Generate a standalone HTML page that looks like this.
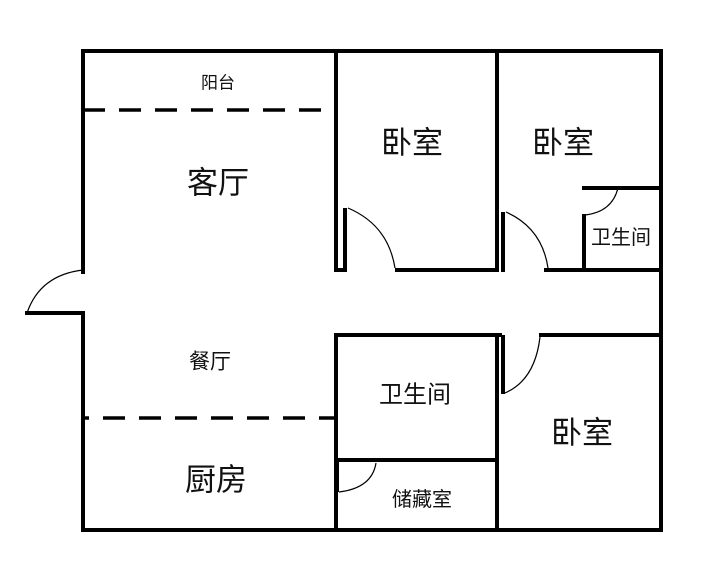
<!DOCTYPE html>
<html><head><meta charset="utf-8"><style>
html,body{margin:0;padding:0;background:#fff;width:711px;height:587px;overflow:hidden}
text{font-family:"Liberation Sans","Noto Sans CJK SC",sans-serif;fill:#111;text-anchor:middle;dominant-baseline:central}
</style></head><body>
<svg width="711" height="587" viewBox="0 0 711 587" xmlns="http://www.w3.org/2000/svg">
<g stroke="#000" stroke-width="4" fill="none" stroke-linecap="square">
<!-- outer -->
<line x1="83" y1="51" x2="661" y2="51"/>
<line x1="83" y1="51" x2="83" y2="272"/>
<line x1="83" y1="313" x2="83" y2="530"/>
<line x1="83" y1="530" x2="661" y2="530"/>
<line x1="661" y1="51" x2="661" y2="530"/>
<!-- bedroom 1 -->
<line x1="336" y1="51" x2="336" y2="270"/>
<line x1="345" y1="210" x2="345" y2="270"/>
<line x1="336" y1="270" x2="345" y2="270"/>
<line x1="397" y1="270" x2="497" y2="270"/>
<!-- bedroom 2 -->
<line x1="497" y1="51" x2="497" y2="270"/>
<line x1="503" y1="214" x2="503" y2="270"/>
<line x1="546" y1="270" x2="661" y2="270"/>
<!-- small bath -->
<line x1="584" y1="188" x2="661" y2="188"/>
<line x1="584" y1="216" x2="584" y2="270"/>
<!-- lower block -->
<line x1="336" y1="335" x2="500" y2="335"/>
<line x1="336" y1="335" x2="336" y2="530"/>
<line x1="497" y1="335" x2="497" y2="530"/>
<line x1="503" y1="337" x2="503" y2="392"/>
<line x1="336" y1="460" x2="497" y2="460"/>
<line x1="541" y1="335" x2="661" y2="335"/>
<!-- entry door sill -->
<line x1="27" y1="313" x2="83" y2="313"/>
</g>
<g stroke="#000" stroke-width="3.5" fill="none">
<line x1="83" y1="110" x2="336" y2="110" stroke-dasharray="22,14"/>
<line x1="83" y1="418" x2="336" y2="418" stroke-dasharray="22,14" stroke-dashoffset="-20"/>
<line x1="338" y1="462" x2="338" y2="492" stroke-width="2"/>
</g>
<g stroke="#000" stroke-width="1.2" fill="none">
<path d="M27 313 Q40 275 83 270"/>
<path d="M348 208 Q388 225 395 268"/>
<path d="M506 212 Q542 228 548 268"/>
<path d="M618 188 Q612 212 585 215"/>
<path d="M540 337 Q535 380 505 393"/>
<path d="M376 463 Q372 488 339 492"/>
</g>
<text x="218" y="83" font-size="17">阳台</text>
<text x="218" y="183" font-size="31">客厅</text>
<text x="412" y="143" font-size="31">卧室</text>
<text x="563" y="143" font-size="31">卧室</text>
<text x="621" y="238" font-size="20">卫生间</text>
<text x="210" y="362" font-size="21">餐厅</text>
<text x="415" y="395" font-size="24">卫生间</text>
<text x="582" y="433" font-size="31">卧室</text>
<text x="216" y="480" font-size="31">厨房</text>
<text x="422" y="500" font-size="20">储藏室</text>
</svg>
</body></html>
